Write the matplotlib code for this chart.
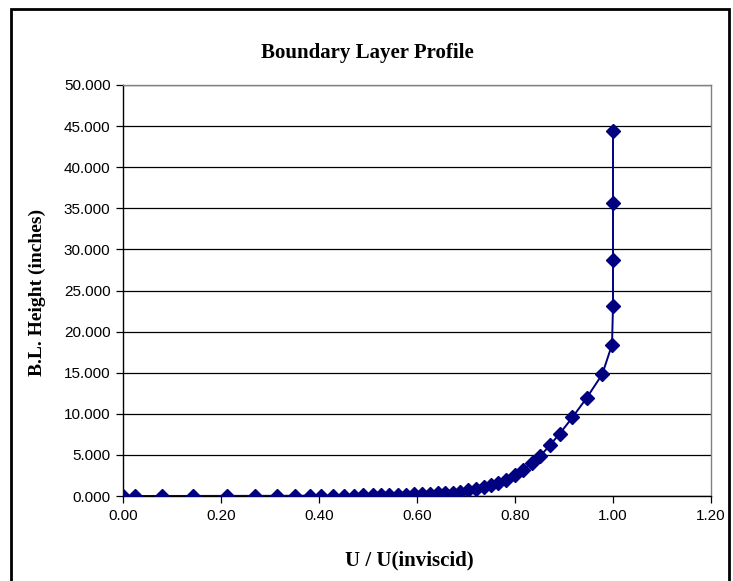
import matplotlib.pyplot as plt
from matplotlib.patches import Rectangle
from matplotlib.ticker import FormatStrFormatter

# velocity ratio U / U(inviscid)
u_ratio = [0.000, 0.025, 0.080, 0.142, 0.212, 0.269, 0.314, 0.351, 0.381, 0.405,
           0.429, 0.450, 0.472, 0.490, 0.510, 0.526, 0.543, 0.561, 0.577, 0.593,
           0.610, 0.626, 0.643, 0.658, 0.673, 0.688, 0.704, 0.720, 0.736, 0.751,
           0.766, 0.782, 0.800, 0.816, 0.834, 0.852, 0.871, 0.891, 0.917, 0.946,
           0.978, 0.998, 1.000, 1.000, 1.000, 1.000]
# boundary layer height (inches)
height = [0.000, 0.002, 0.005, 0.010, 0.015, 0.020, 0.025, 0.030, 0.035, 0.040,
          0.045, 0.050, 0.060, 0.070, 0.080, 0.090, 0.100, 0.150, 0.180, 0.200,
          0.240, 0.270, 0.330, 0.370, 0.420, 0.530, 0.690, 0.850, 1.060, 1.340,
          1.590, 1.950, 2.520, 3.210, 3.980, 4.880, 6.180, 7.560, 9.550, 11.910,
          14.800, 18.410, 23.130, 28.760, 35.690, 44.430]

W, H = 733, 581
fig = plt.figure(figsize=(W / 100, H / 100), dpi=100)
ax = fig.add_axes([123 / W, 1 - 496 / H, (711 - 123) / W, (496 - 85) / H])

ax.plot(u_ratio, height, color='#000080', lw=1.4, marker='D', ms=6.8,
        markeredgecolor='#000080', zorder=3)

ax.set_xlim(0, 1.2)
ax.set_ylim(0, 50)
ax.set_xticks([0, 0.2, 0.4, 0.6, 0.8, 1.0, 1.2])
ax.set_yticks(range(0, 55, 5))
ax.xaxis.set_major_formatter(FormatStrFormatter('%.2f'))
ax.yaxis.set_major_formatter(FormatStrFormatter('%.3f'))
ax.yaxis.grid(True, color='black', lw=0.9)
ax.set_axisbelow(True)

for lab in ax.get_xticklabels() + ax.get_yticklabels():
    lab.set_fontfamily('Liberation Sans')
    lab.set_fontsize(11)
ax.tick_params(direction='out', length=5, width=0.9, color='black', pad=4)

for s in ['left', 'bottom']:
    ax.spines[s].set_color('black')
    ax.spines[s].set_linewidth(1.0)
for s in ['right', 'top']:
    ax.spines[s].set_color('#808080')
    ax.spines[s].set_linewidth(1.0)

fig.text(367 / W, 1 - 53 / H, 'Boundary Layer Profile', ha='center', va='center',
         fontfamily='Liberation Serif', fontweight='bold', fontsize=15)
fig.text(409 / W, 1 - 560 / H, 'U / U(inviscid)', ha='center', va='center',
         fontfamily='Liberation Serif', fontweight='bold', fontsize=15)
fig.text(37 / W, 1 - 292 / H, 'B.L. Height (inches)', ha='center', va='center',
         rotation=90, fontfamily='Liberation Serif', fontweight='bold', fontsize=14)

# outer chart border, bottom edge falls outside the picture
fig.add_artist(Rectangle((11 / W, -0.05), (729 - 11) / W, 1.05 - 9 / H,
                         transform=fig.transFigure, fill=False, lw=2, ec='black'))

fig.savefig('out.png', dpi=100)
